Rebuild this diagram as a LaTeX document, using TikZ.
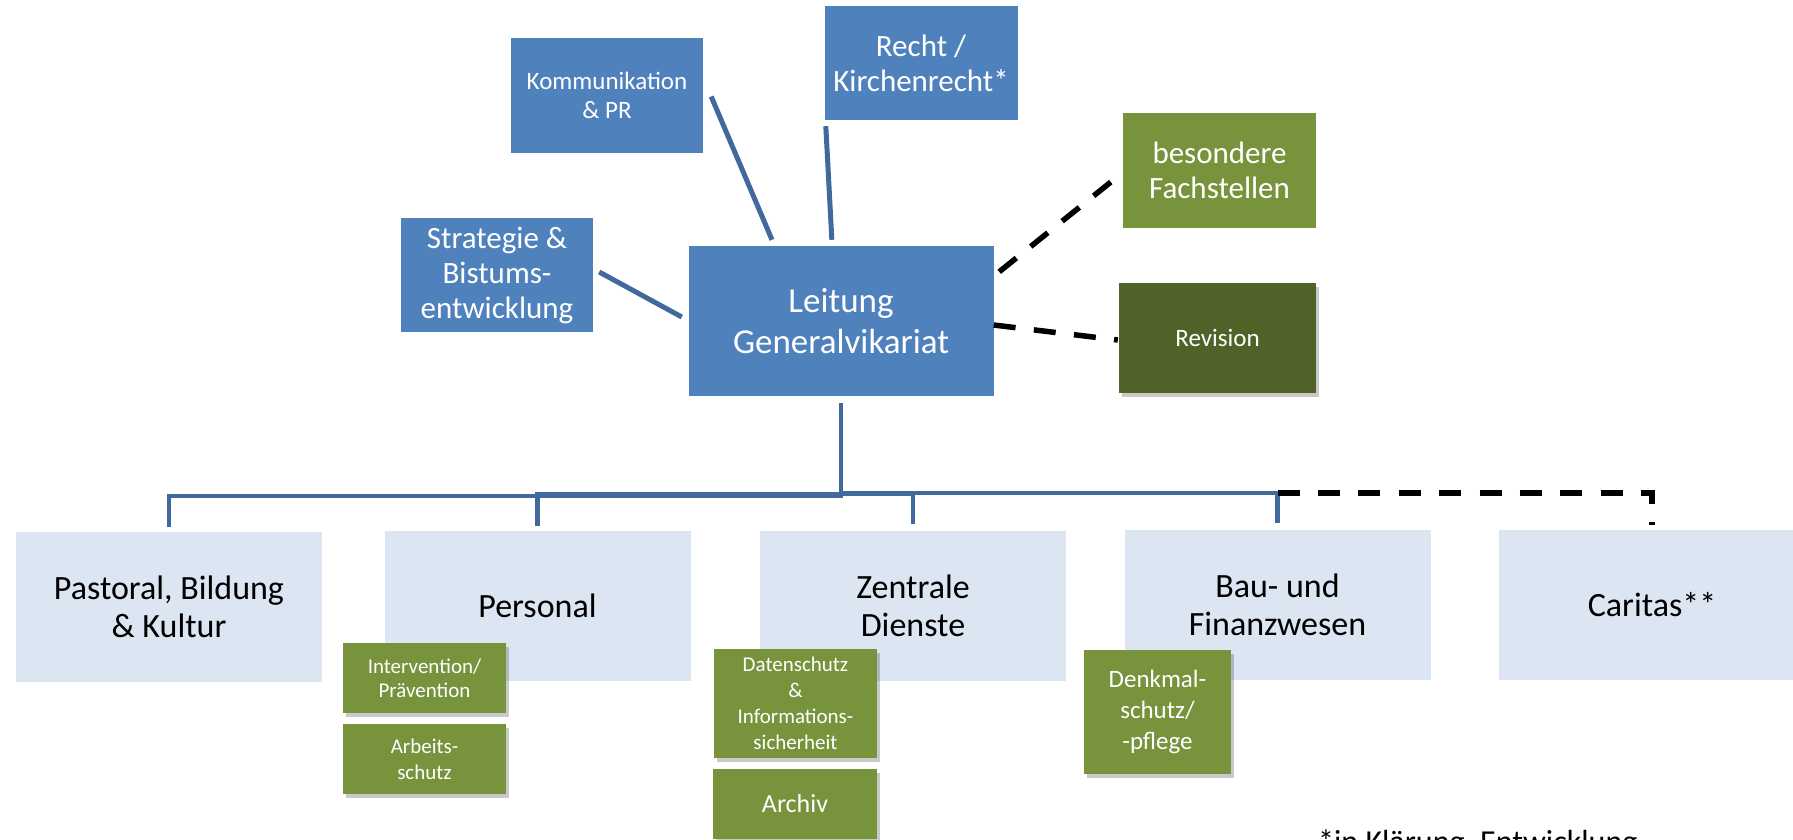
\documentclass[tikz,border=0pt]{standalone}
\usepackage{fontspec}
\setmainfont{Carlito}
\usetikzlibrary{calc,shadows}

\definecolor{boxblue}{HTML}{4F81BD}
\definecolor{unitblue}{HTML}{DCE6F2}
\definecolor{olivebox}{HTML}{77933C}
\definecolor{darkolive}{HTML}{4F6228}
\definecolor{linkblue}{HTML}{41699B}

\newcommand{\fsz}[2]{\fontsize{#1}{#2}\selectfont}

\tikzset{
  plainbox/.style={inner sep=0pt, align=center, text=white},
  leadbox/.style={plainbox, fill=boxblue},
  unitbox/.style={inner sep=0pt, align=center, fill=unitblue, text=black,
    minimum width=306pt, minimum height=150pt, font=\fsz{34}{38}},
  subbox/.style={plainbox, fill=olivebox,
    drop shadow={shadow xshift=3pt, shadow yshift=-4pt, opacity=0.3, fill=black!70}},
  link/.style={draw=linkblue, line width=5pt},
  tree/.style={draw=linkblue, line width=4.5pt},
  dashlink/.style={draw=black, line width=5.5pt, dash pattern=on 22pt off 18.4pt},
}

\begin{document}
\begin{tikzpicture}[x=1pt, y=-1pt]
\useasboundingbox (0,0) rectangle (1793,839);
\clip (0,0) rectangle (1793,839);

% staff units around the management
\node[leadbox, minimum width=192pt, minimum height=115pt, font=\fsz{25}{29}] (komm) at (607,95.5) {Kommunikation\\\& PR};
\node[leadbox, minimum width=193pt, minimum height=114pt, font=\fsz{31}{35}] (recht) at (921,63) {Recht /\\Kirchenrecht*};
\node[leadbox, minimum width=192pt, minimum height=114pt, font=\fsz{31}{35}] (strat) at (497,275) {Strategie \&\\Bistums-\\entwicklung};
\node[leadbox, minimum width=305pt, minimum height=150pt, font=\fsz{35}{41}] (leit) at (841,321) {Leitung\\Generalvikariat};
\node[plainbox, fill=olivebox, minimum width=193pt, minimum height=115pt, font=\fsz{31}{35}] (fach) at (1219.5,170.5) {besondere\\Fachstellen};
\node[subbox, fill=darkolive, minimum width=197pt, minimum height=110pt, font=\fsz{25}{30}] (rev) at (1217.5,338) {Revision};

% connectors of the staff units
\draw[link] ($(komm.east)+(8,1)$) -- ($(leit.north west)!0.274!(leit.north east)+(0,-6)$);
\draw[link] ($(recht.south west)+(1.5,6)$) -- ($(leit.north west)!0.47!(leit.north east)+(0,-6)$);
\draw[link] ($(strat.east)+(6,-3)$) -- ($(leit.west)+(-6.5,-4)$);
\draw[dashlink] ($(leit.north east)+(5.5,26)$) -- ($(fach.west)+(-2,3.5)$);
\draw[dashlink] ($(leit.east)+(0,4)$) -- ($(rev.west)+(-1,2)$);

% departments
\node[unitbox] (past) at (169,607) {Pastoral, Bildung\\\& Kultur};
\node[unitbox] (pers) at (537.5,606) {Personal};
\node[unitbox] (zent) at (913,605.5) {Zentrale\\Dienste};
\node[unitbox] (bau) at (1277.5,604.5) {Bau- und\\Finanzwesen};
\node[unitbox] (cari) at (1652,605) {Caritas**};

% tree below the management
\draw[tree] ($(leit.south)+(0,7)$) |- ($(past.north)+(0,-36)$) -- ($(past.north)+(0,-5)$);
\draw[tree] ($(leit.south)+(0,7)$) |- ($(pers.north)+(0,-36.5)$) -- ($(pers.north)+(0,-5)$);
\draw[tree] ($(leit.south)+(0,7)$) |- ($(zent.north)+(0,-36.5)$) -- ($(zent.north)+(0,-6)$);
\draw[tree] ($(leit.south)+(0,7)$) |- ($(bau.north)+(0,-36.5)$) -- ($(bau.north)+(0,-6)$);
\draw[dashlink] ($(bau.north)+(0,-36.5)$) -| ($(cari.north)+(0,-4.5)$);

% special offices inside the departments
\node[subbox, minimum width=163pt, minimum height=70pt, font=\fsz{21}{24}] (interv) at (424.5,678) {Intervention/\\Prävention};
\node[subbox, minimum width=163pt, minimum height=70pt, font=\fsz{21}{26}] (arbeit) at (424.5,759) {Arbeits-\\schutz};
\node[subbox, minimum width=163pt, minimum height=109pt, font=\fsz{21}{26}] (daten) at (795.5,703.5) {Datenschutz\\\&\\Informations-\\sicherheit};
\node[subbox, minimum width=164pt, minimum height=70pt, font=\fsz{26}{30}] (archiv) at (795,804) {Archiv};
\node[subbox, minimum width=147pt, minimum height=124pt, font=\fsz{25}{31}] (denk) at (1157.5,712) {Denkmal-\\schutz/\\-pflege};

% footnote
\node[anchor=base west, inner sep=0pt, font=\fsz{32}{38}] (note) at (1318,852) {*in Klärung, Entwicklung};
\end{tikzpicture}
\end{document}
